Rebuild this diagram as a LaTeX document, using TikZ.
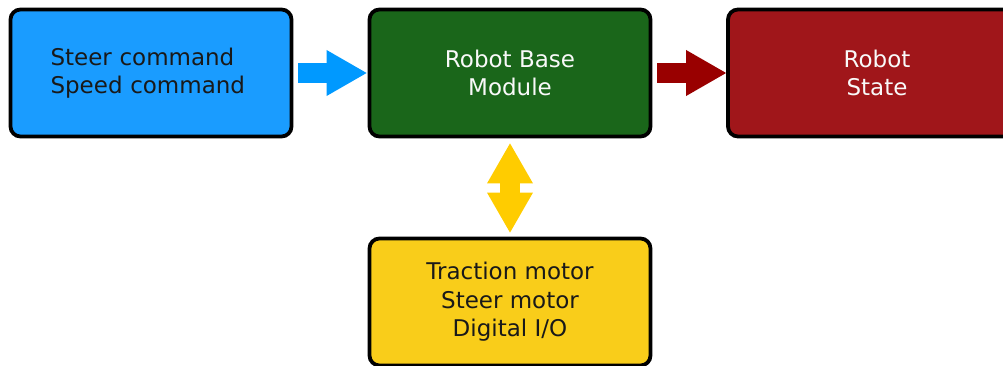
\documentclass[tikz,border=0pt]{standalone}
\usepackage{fontspec}
\setmainfont{DejaVu Sans}
\usetikzlibrary{arrows.meta}
\definecolor{cmdblue}{HTML}{1A9CFF}
\definecolor{arrowblue}{HTML}{0099FF}
\definecolor{basegreen}{HTML}{1A661A}
\definecolor{statered}{HTML}{A0161A}
\definecolor{arrowred}{HTML}{990000}
\definecolor{ioyellow}{HTML}{F9CD1A}
\definecolor{arrowyellow}{HTML}{FFCC00}
\begin{document}
\begin{tikzpicture}[x=1pt,y=1pt,
box/.style={draw=black,line width=3.8pt,rounded corners=10pt,minimum width=281pt,minimum height=127pt,inner sep=0pt,align=center,font=\fontsize{23}{28.5}\selectfont},
fat/.style={line width=20pt,shorten <=5pt},
fattip/.tip={Triangle[length=40pt,width=46pt,line width=0pt]}]
\clip (0,0) rectangle (1003,365);
\node[box,fill=cmdblue,align=left,text width=201pt,text=black!90](cmd) at (151,292){Steer command\\Speed command};
\node[box,fill=basegreen,text=white!95!gray](base) at (510,292){Robot Base\\Module};
\node[box,fill=statered,text=white!95!gray,minimum width=298pt](state) at (877,292){Robot\\State};
\node[box,fill=ioyellow,text=black!90](io) at (510,63){Traction motor\\Steer motor\\Digital I/O};
\draw[fat,arrowblue,-fattip,shorten >=1pt] (cmd) -- (base);
\draw[fat,arrowred,-fattip] (base) -- (state);
\draw[fat,arrowyellow,fattip-fattip,shorten >=4pt] (base) -- (io);
\end{tikzpicture}
\end{document}
